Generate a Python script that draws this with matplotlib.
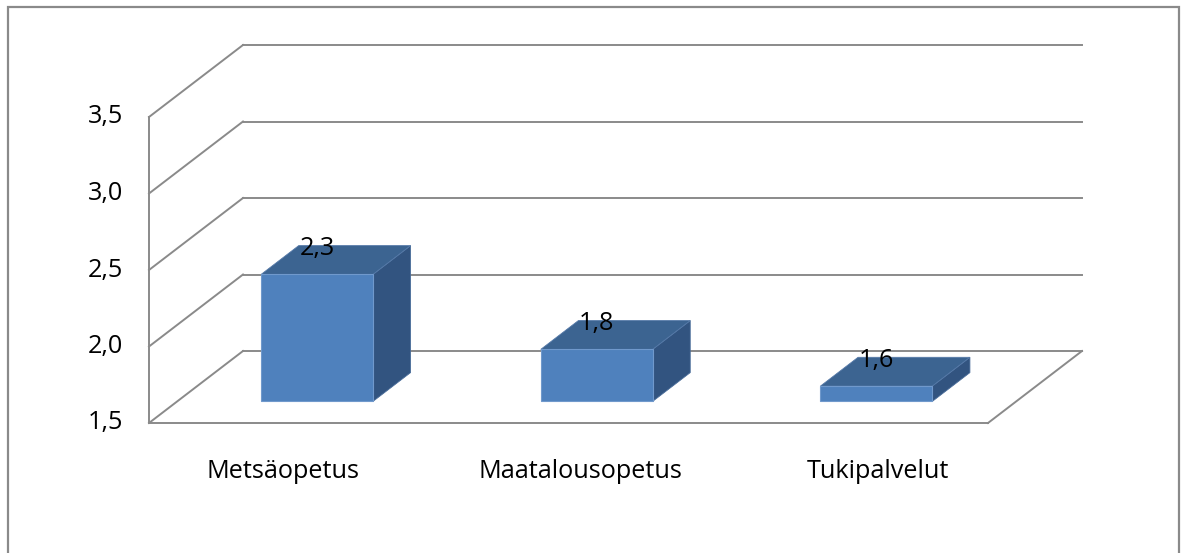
import matplotlib.pyplot as plt
from matplotlib.patches import Polygon, Rectangle

categories = ["Metsäopetus", "Maatalousopetus", "Tukipalvelut"]
values = [2.33, 1.84, 1.60]
value_labels = ["2,3", "1,8", "1,6"]
yticks = [1.5, 2.0, 2.5, 3.0, 3.5]
ytick_labels = ["1,5", "2,0", "2,5", "3,0", "3,5"]

plt.rcParams['font.family'] = ['Open Sans', 'DejaVu Sans']

# pixel geometry of the fake 3D box
PX_X = 279.67   # px per category
PX_Y = 153.0    # px per value unit
X0, Y0 = 149, 423
DX = 94 / PX_X  # depth offset in data units
DY = 72 / PX_Y
BASE = 1.5
W = 0.4
D0, D1 = 0.3, 0.7
FS = 18.2

GRID = '#8a8a8a'
FRONT = '#4f81bd'
TOP = '#3c6491'
SIDE = '#325480'


def proj(x, v, d):
    return (x + d * DX, v + d * DY)


fig = plt.figure(figsize=(11.88, 5.53), dpi=100)
ax = fig.add_axes([0, 0, 1, 1])
ax.set_xlim(-X0 / PX_X, (1188 - X0) / PX_X)
ax.set_ylim(BASE - (553 - Y0) / PX_Y, BASE + Y0 / PX_Y)
ax.axis('off')

n = len(categories)

# walls and gridlines
for t in yticks:
    a, b = proj(0, t, 1), proj(n, t, 1)
    ax.plot([a[0], b[0]], [a[1], b[1]], color=GRID, lw=1.4, zorder=1)
    a, b = proj(0, t, 0), proj(0, t, 1)
    ax.plot([a[0], b[0]], [a[1], b[1]], color=GRID, lw=1.4, zorder=1)
ax.plot([0, 0], [yticks[0], yticks[-1]], color=GRID, lw=1.4, zorder=1)
ax.plot([0, n], [BASE, BASE], color=GRID, lw=1.4, zorder=1)
a, b = proj(n, BASE, 0), proj(n, BASE, 1)
ax.plot([a[0], b[0]], [a[1], b[1]], color=GRID, lw=1.4, zorder=1)

for t, lab in zip(yticks, ytick_labels):
    ax.text(-26 / PX_X, t, lab, ha='right', va='center', fontsize=FS)

# bars
for i, v in enumerate(values):
    x0 = i + 0.5 - W / 2
    x1 = x0 + W
    front = [proj(x0, BASE, D0), proj(x1, BASE, D0), proj(x1, v, D0), proj(x0, v, D0)]
    top = [proj(x0, v, D0), proj(x1, v, D0), proj(x1, v, D1), proj(x0, v, D1)]
    side = [proj(x1, BASE, D0), proj(x1, BASE, D1), proj(x1, v, D1), proj(x1, v, D0)]
    ax.add_patch(Polygon(side, closed=True, fc=SIDE, ec='#4a6d9a', lw=0.6, zorder=3))
    ax.add_patch(Polygon(top, closed=True, fc=TOP, ec='#5579a8', lw=0.6, zorder=3))
    ax.add_patch(Polygon(front, closed=True, fc=FRONT, ec='#7099cc', lw=0.8, zorder=4))
    lx = i + 0.5 + D0 * DX
    ly = proj(0, v, 0.66)[1]
    ax.text(lx, ly, value_labels[i], ha='center', va='center', fontsize=FS, zorder=5)

# category labels (Excel spreads them slightly wider than the bars)
LABEL_STEP = 1.064
for i, c in enumerate(categories):
    ax.text(0.479 + i * LABEL_STEP, BASE - 49 / PX_Y, c, ha='center', va='center',
            fontsize=FS)

# chart area border
fig.patches.append(Rectangle((8 / 1188, -0.05), (1179 - 8) / 1188, 1.05 - 7 / 553,
                             transform=fig.transFigure, fill=False,
                             ec=GRID, lw=1.6))

fig.savefig('out.png', dpi=100)
